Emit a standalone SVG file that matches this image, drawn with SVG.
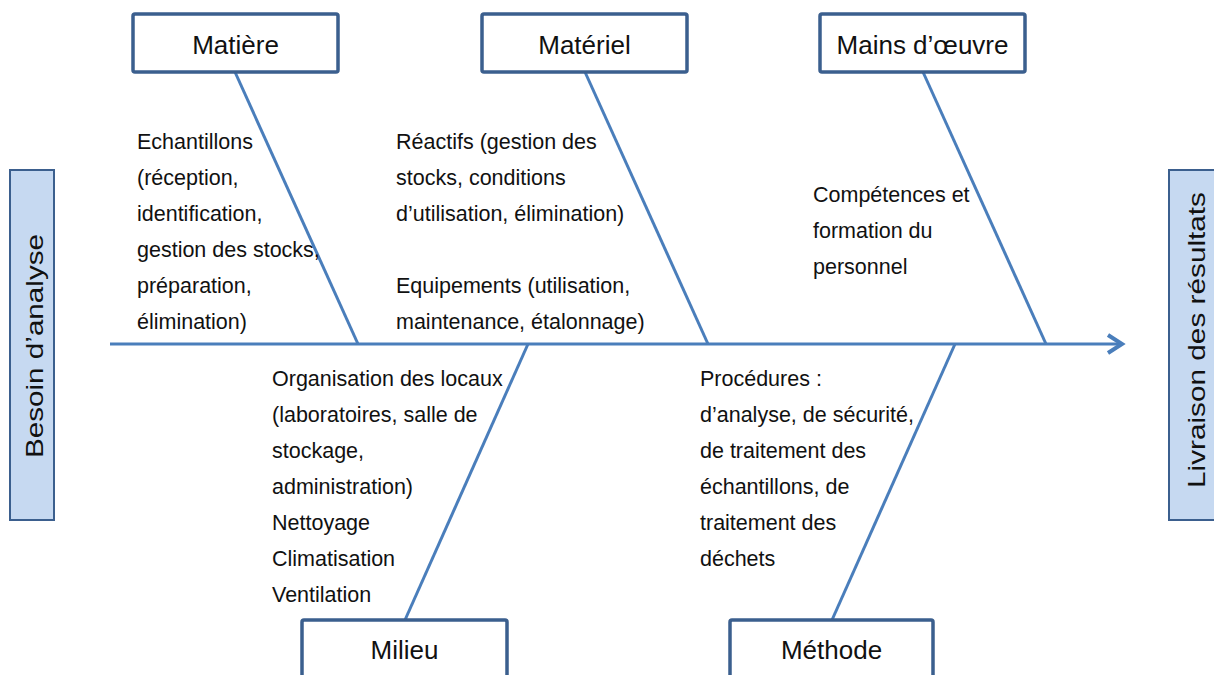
<svg xmlns="http://www.w3.org/2000/svg" width="1214" height="675" viewBox="0 0 1214 675">
  <style>
    .box { fill: #ffffff; stroke: #3B5F8E; stroke-width: 3.5; }
    .side { fill: #C6D9F1; stroke: #3B5F8E; stroke-width: 2; }
    .bone { stroke: #4A7EBB; stroke-width: 3; fill: none; stroke-linecap: butt; }
    .title { font-family: "Liberation Sans", Arial, sans-serif; font-size: 26px; fill: #111111; text-anchor: middle; }
    .vert { font-family: "Liberation Sans", Arial, sans-serif; font-size: 24px; fill: #111111; text-anchor: middle; }
    .note { font-family: "Liberation Sans", Arial, sans-serif; font-size: 21.5px; fill: #111111; }
  </style>
  <defs>
    <marker id="head" markerUnits="userSpaceOnUse" markerWidth="24" markerHeight="24" refX="18" refY="12" orient="auto">
      <path d="M4,3 L18,12 L4,21" fill="none" stroke="#4A7EBB" stroke-width="4"/>
    </marker>
  </defs>

  <rect width="1214" height="675" fill="#ffffff"/>

  <!-- connectors: spine and the five cause bones -->
  <g id="connectors">
    <line class="bone" x1="110" y1="344" x2="1122" y2="344" marker-end="url(#head)" stroke-width="3.5"/>
    <line class="bone" x1="235" y1="72" x2="358" y2="344"/>
    <line class="bone" x1="585" y1="72" x2="708" y2="344"/>
    <line class="bone" x1="923" y1="72" x2="1046" y2="344"/>
    <line class="bone" x1="528" y1="344" x2="405" y2="620"/>
    <line class="bone" x1="955" y1="344" x2="832" y2="620"/>
  </g>

  <!-- start and end of the chain -->
  <g id="besoin">
    <rect class="side" x="10" y="170" width="44" height="350"/>
    <text class="vert" transform="translate(43,346) rotate(-90)" textLength="224" lengthAdjust="spacingAndGlyphs">Besoin d’analyse</text>
  </g>
  <g id="livraison">
    <rect class="side" x="1169" y="170" width="48" height="350"/>
    <text class="vert" transform="translate(1205,340) rotate(-90)" textLength="296" lengthAdjust="spacingAndGlyphs">Livraison des résultats</text>
  </g>

  <!-- cause categories -->
  <g id="matiere">
    <rect class="box" x="133" y="14" width="205" height="58" rx="2"/>
    <text class="title" x="235.5" y="54">Matière</text>
  </g>
  <g id="materiel">
    <rect class="box" x="482" y="14" width="205" height="58" rx="2"/>
    <text class="title" x="584.5" y="54">Matériel</text>
  </g>
  <g id="mains">
    <rect class="box" x="820" y="14" width="205" height="58" rx="2"/>
    <text class="title" x="922.5" y="54">Mains d’œuvre</text>
  </g>
  <g id="milieu">
    <rect class="box" x="302" y="620" width="205" height="62" rx="2"/>
    <text class="title" x="404.5" y="659">Milieu</text>
  </g>
  <g id="methode">
    <rect class="box" x="730" y="620" width="203" height="62" rx="2"/>
    <text class="title" x="831.5" y="659">Méthode</text>
  </g>

  <!-- cause details -->
  <g id="matiere-details">
    <text class="note" x="137" y="149">Echantillons</text>
    <text class="note" x="137" y="185">(réception,</text>
    <text class="note" x="137" y="221">identification,</text>
    <text class="note" x="137" y="257">gestion des stocks,</text>
    <text class="note" x="137" y="293">préparation,</text>
    <text class="note" x="137" y="329">élimination)</text>
  </g>
  <g id="materiel-details">
    <text class="note" x="396" y="149">Réactifs (gestion des</text>
    <text class="note" x="396" y="185">stocks, conditions</text>
    <text class="note" x="396" y="221">d’utilisation, élimination)</text>
    <text class="note" x="396" y="293">Equipements (utilisation,</text>
    <text class="note" x="396" y="329">maintenance, étalonnage)</text>
  </g>
  <g id="mains-details">
    <text class="note" x="813" y="202">Compétences et</text>
    <text class="note" x="813" y="238">formation du</text>
    <text class="note" x="813" y="274">personnel</text>
  </g>
  <g id="milieu-details">
    <text class="note" x="272" y="386">Organisation des locaux</text>
    <text class="note" x="272" y="422">(laboratoires, salle de</text>
    <text class="note" x="272" y="458">stockage,</text>
    <text class="note" x="272" y="494">administration)</text>
    <text class="note" x="272" y="530">Nettoyage</text>
    <text class="note" x="272" y="566">Climatisation</text>
    <text class="note" x="272" y="602">Ventilation</text>
  </g>
  <g id="methode-details">
    <text class="note" x="700" y="386">Procédures :</text>
    <text class="note" x="700" y="422">d’analyse, de sécurité,</text>
    <text class="note" x="700" y="458">de traitement des</text>
    <text class="note" x="700" y="494">échantillons, de</text>
    <text class="note" x="700" y="530">traitement des</text>
    <text class="note" x="700" y="566">déchets</text>
  </g>
</svg>
